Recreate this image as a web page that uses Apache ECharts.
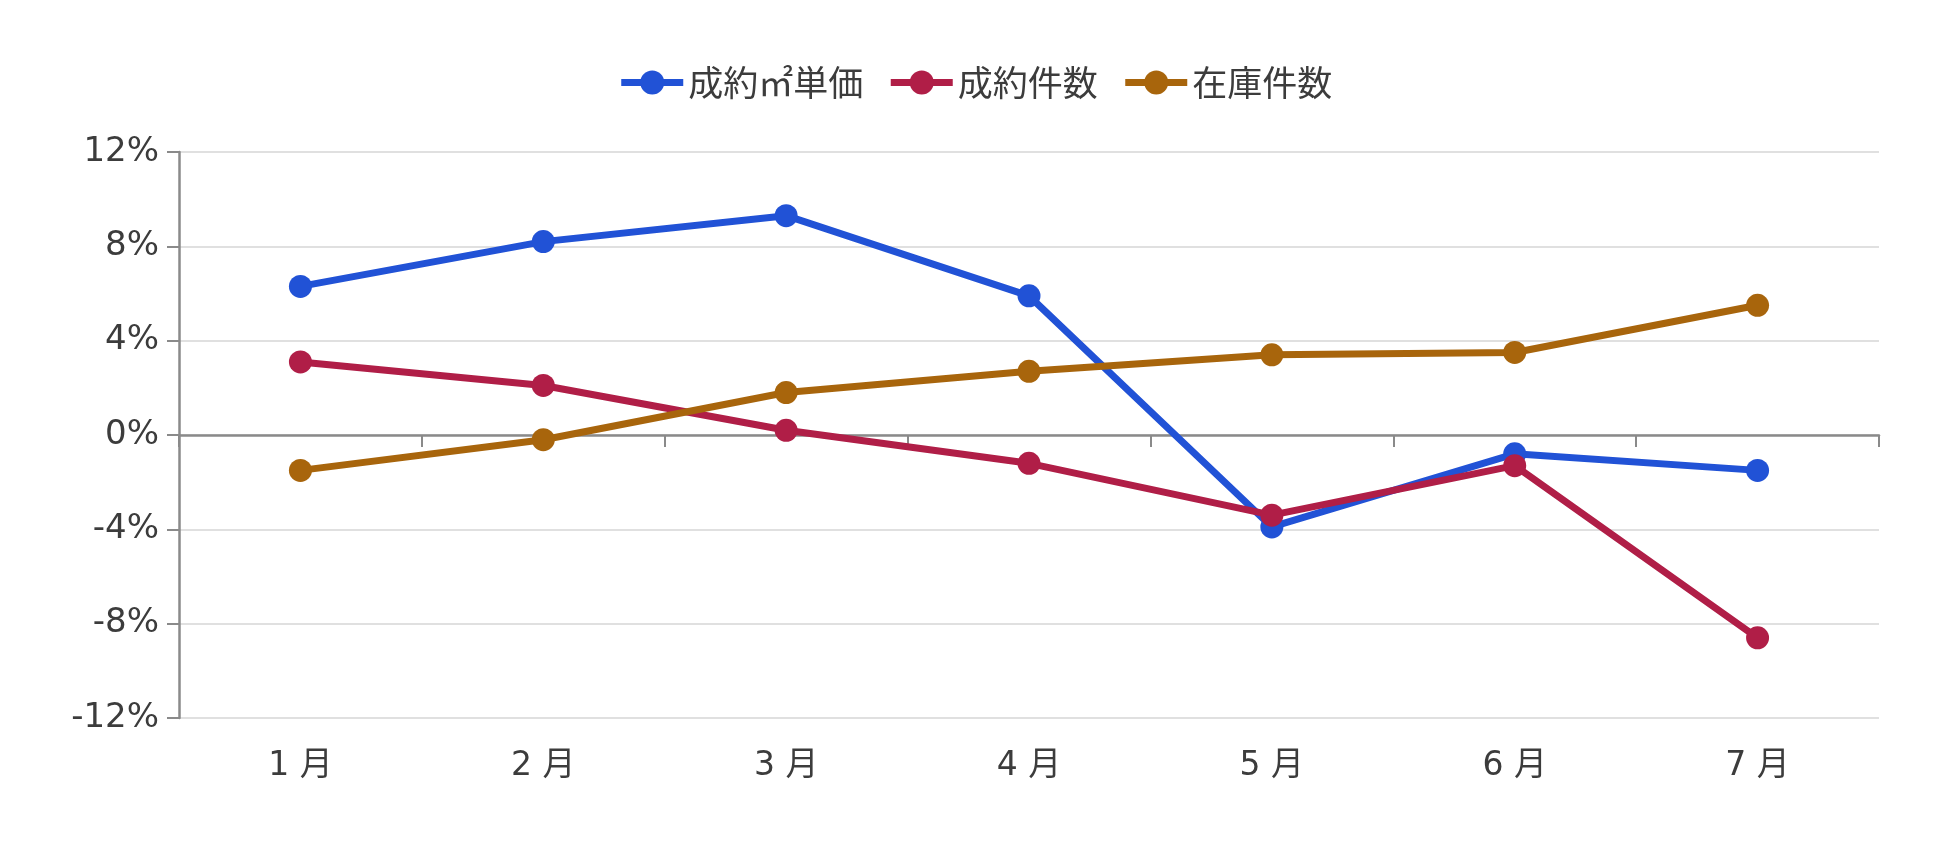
<!DOCTYPE html>
<html>
<head>
<meta charset="utf-8">
<script src="https://cdn.jsdelivr.net/npm/echarts@6/dist/echarts.min.js"></script>
<style>
  html, body { margin: 0; padding: 0; background: #fff; }
  #chart { width: 1950px; height: 841px; }
</style>
</head>
<body>
<div id="chart"></div>
<script>
// 月別 前年同月比 (%)
const months = ['1 月', '2 月', '3 月', '4 月', '5 月', '6 月', '7 月'];
const unitPrice = [6.3, 8.2, 9.3, 5.9, -3.9, -0.8, -1.5];
const dealCount = [3.1, 2.1, 0.2, -1.2, -3.4, -1.3, -8.6];
const stockCount = [-1.5, -0.2, 1.8, 2.7, 3.4, 3.5, 5.5];

const seriesNames = ['成約㎡単価', '成約件数', '在庫件数'];
const colors = ['#2152d6', '#b01e47', '#a8650c'];

const font = "'DejaVu Sans', 'Noto Sans CJK JP', sans-serif";
const textColor = '#3c3c3c';
const axisColor = '#8a8a8a';

const chart = echarts.init(document.getElementById('chart'));

const makeLine = (name, data, color) => ({
  name,
  type: 'line',
  xAxisIndex: 0,
  data,
  symbol: 'circle',
  symbolSize: 23,
  itemStyle: { color },
  lineStyle: { color, width: 7 },
  emphasis: { disabled: true }
});

chart.setOption({
  animation: false,
  color: colors,
  textStyle: { fontFamily: font, color: textColor },
  legend: {
    top: 60,
    left: 'center',
    itemWidth: 62,
    itemHeight: 30,
    itemGap: 24,
    lineStyle: { width: 7 },
    textStyle: { fontSize: 35, color: textColor, fontFamily: "'Noto Sans CJK JP', sans-serif" },
    data: seriesNames
  },
  grid: { left: 179, right: 71, top: 152, bottom: 123 },
  xAxis: [
    {
      type: 'category',
      data: months,
      position: 'bottom',
      axisLine: { show: false, onZero: false },
      axisTick: { show: false },
      splitLine: { show: false },
      axisLabel: { fontSize: 33, color: textColor, margin: 32, fontFamily: font }
    },
    {
      type: 'category',
      data: months,
      position: 'top',
      axisLine: { show: true, onZero: true, lineStyle: { color: axisColor, width: 2.5 } },
      axisTick: { show: true, inside: true, length: 12, lineStyle: { color: axisColor, width: 2 } },
      axisLabel: { show: false },
      splitLine: { show: false }
    }
  ],
  yAxis: {
    type: 'value',
    min: -12,
    max: 12,
    interval: 4,
    axisLine: { show: true, lineStyle: { color: axisColor, width: 2.5 } },
    axisTick: { show: true, length: 12, lineStyle: { color: axisColor, width: 2 } },
    axisLabel: { fontSize: 34, color: textColor, margin: 20, formatter: '{value}%' },
    splitLine: { lineStyle: { color: '#e0e0e0', width: 2 } }
  },
  series: [
    makeLine(seriesNames[0], unitPrice, colors[0]),
    makeLine(seriesNames[1], dealCount, colors[1]),
    makeLine(seriesNames[2], stockCount, colors[2])
  ]
});
</script>
</body>
</html>
